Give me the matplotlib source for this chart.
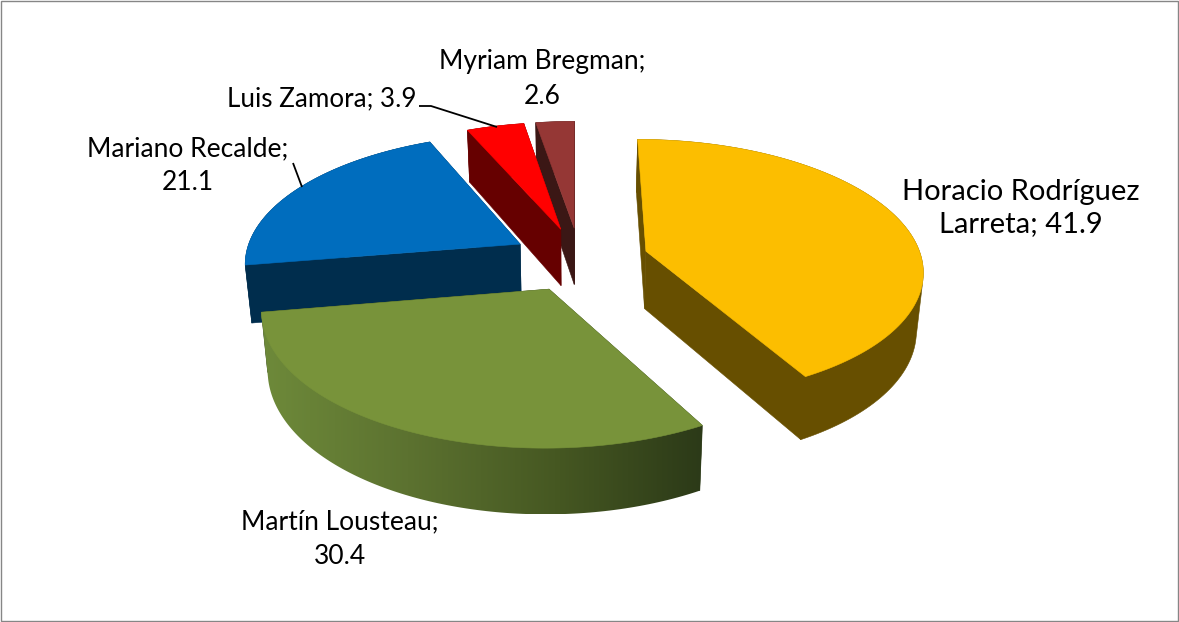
#!/usr/bin/env python3
"""
Exploded 3D style pie chart, drawn with polygons through a small perspective projection
"""
import numpy as np
import matplotlib
matplotlib.use("Agg")
import matplotlib.pyplot as plt
from matplotlib.colors import to_rgb
from matplotlib.patches import Polygon, Rectangle

names = ["Horacio Rodríguez\nLarreta", "Martín Lousteau", "Mariano Recalde", "Luis Zamora", "Myriam Bregman"]
values = [41.9, 30.4, 21.1, 3.9, 2.6]
separators = [" ", "\n", "\n", " ", "\n"]

top_colors = ["#FCBE00", "#78933A", "#006DBE", "#FF0000", "#953735"]
wall_colors = ["#674F00", "#2C3A18", "#002D4D", "#660000", "#3B1715"]
label_xy = [(1021, 208), (340, 539), (188, 166), (322, 99), (542, 79)]
label_sizes = [21, 19, 19, 18.7, 19]
label_spacing = [1.25, 1.45, 1.45, 1.45, 1.45]

# perspective fit, everything below in image pixels
XV, YV = 575, -700
CX, CU = 0.005, 0.0010425
RX, RU = 0.2875, 0.00014
EXPLODE = 0.25
GREEN_RAMP = ["#6E8A3A", "#5C7230", "#465822", "#2C3A18"]


def project(x, y):
    w = 1.0 / (CU + RU * y)
    return XV + (CX + RX * x) * w, YV + w


def drop(sx, sy):
    # bottom of the slab under a point on the top face
    w = sy - YV
    return sx + (XV - sx) * 0.02, sy + 52 + 0.045 * (w - 832)


def slice_outline(start, end):
    # returns apex and the arc on the top face, angles clockwise from 12 o'clock
    mid = (start + end) / 2
    ox, oy = EXPLODE * np.sin(mid), EXPLODE * np.cos(mid)
    theta = np.linspace(start, end, 120)
    ax, ay = project(ox + np.sin(theta), oy + np.cos(theta))
    px, py = project(ox, oy)
    return (px, py), ax, ay


def hull(points):
    # monotone chain, the curved wall is the hull of both arcs with the top face over it
    pts = sorted(set(points))

    def half(seq):
        out = []
        for p in seq:
            while len(out) > 1 and ((out[-1][0] - out[-2][0]) * (p[1] - out[-2][1])
                                    - (out[-1][1] - out[-2][1]) * (p[0] - out[-2][0])) <= 0:
                out.pop()
            out.append(p)
        return out[:-1]

    return half(pts) + half(pts[::-1])


fig = plt.figure(figsize=(11.79, 6.22), dpi=100)
ax = fig.add_axes([0, 0, 1, 1])
ax.axis("off")
ax.add_patch(Rectangle((1, 1), 1176.5, 619.5, fill=False, ec="#868686", lw=1.0))

fractions = np.array(values) / sum(values)
edges = np.concatenate([[0], np.cumsum(fractions)]) * 2 * np.pi

# painter order: far slices first
for n, i in enumerate([4, 3, 2, 0, 1]):
    z = 2 + n * 0.1
    (px, py), arc_x, arc_y = slice_outline(edges[i], edges[i + 1])
    bx, by = drop(arc_x, arc_y)
    pbx, pby = drop(px, py)

    # the two straight walls
    for k in [0, -1]:
        quad = [(px, py), (arc_x[k], arc_y[k]), (bx[k], by[k]), (pbx, pby)]
        ax.add_patch(Polygon(quad, closed=True, fc=wall_colors[i], ec=wall_colors[i], lw=0.4, zorder=z))

    # outer curved wall, the green one has a left to right shading
    outline = hull(list(zip(arc_x, arc_y)) + list(zip(bx, by)))
    if i == 1:
        clip = Polygon(outline, closed=True, fc="none", ec="none", transform=ax.transData)
        ax.add_patch(clip)
        stops = np.array([to_rgb(c) for c in GREEN_RAMP])
        t = np.linspace(0, 1, 400)
        grad = np.stack([np.interp(t, np.linspace(0, 1, len(stops)), stops[:, c]) for c in range(3)], axis=-1)[None, :, :]
        im = ax.imshow(grad, extent=(arc_x.min(), arc_x.max(), by.max(), arc_y.min()),
                       aspect="auto", interpolation="bilinear", zorder=z)
        im.set_clip_path(clip)
    else:
        ax.add_patch(Polygon(outline, closed=True, fc=wall_colors[i], ec=wall_colors[i], lw=0.4, zorder=z))

    top = [(px, py)] + list(zip(arc_x, arc_y))
    ax.add_patch(Polygon(top, closed=True, fc=top_colors[i], ec=top_colors[i], lw=0.4, zorder=z))

ax.set_xlim(0, 1179)
ax.set_ylim(622, 0)

# leader lines
ax.plot([419, 431, 497], [106, 106, 127], color="black", lw=1.3, solid_capstyle="butt", zorder=3)
ax.plot([293, 302], [163, 187], color="black", lw=1.3, solid_capstyle="butt", zorder=3)

for name, val, sep, (lx, ly), fs, ls in zip(names, values, separators, label_xy, label_sizes, label_spacing):
    ax.text(lx, ly, f"{name};{sep}{val}", ha="center", va="center", fontsize=fs,
            family="Lato", color="black", linespacing=ls, zorder=4)

fig.savefig("out.png", dpi=100)
